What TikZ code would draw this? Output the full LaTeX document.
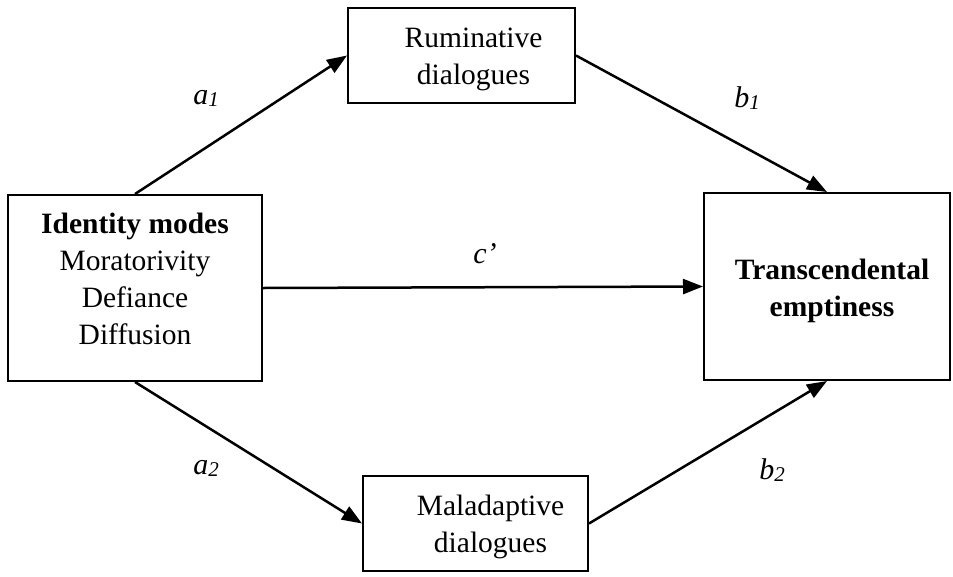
\documentclass[tikz,border=0pt]{standalone}
\usepackage{fontspec}
\setmainfont{Liberation Serif}
\usetikzlibrary{arrows.meta}
\tikzset{
    box/.style={draw,line width=2pt,inner sep=0pt},
    txt/.style={align=center,font=\fontsize{29.5}{37}\selectfont},
    path/.style={line width=2.5pt,-{Triangle[length=20pt,width=15pt]}},
    coef/.style={font=\fontsize{30}{36}\selectfont\itshape}
}
\newcommand{\sub}[1]{\raisebox{-2pt}{\fontsize{21}{21}\selectfont #1}}
\begin{document}
\begin{tikzpicture}[x=1pt,y=-1pt]
    \useasboundingbox (0,0) rectangle (953,576);

    \node[box,minimum width=254pt,minimum height=186pt,
        label={[txt,yshift=9.5pt]center:\textbf{Identity modes}\\Moratorivity\\Defiance\\Diffusion}]
        (idm) at (135,288) {};
    \node[box,minimum width=227pt,minimum height=95pt,
        label={[txt,xshift=12pt,yshift=-4pt]center:Ruminative\\dialogues}]
        (rum) at (461.5,55.5) {};
    \node[box,minimum width=225pt,minimum height=95pt,
        label={[txt,xshift=15pt,yshift=-3pt]center:Maladaptive\\dialogues}]
        (mal) at (475.5,523.5) {};
    \node[box,minimum width=246pt,minimum height=187pt,
        label={[txt,xshift=5pt,yshift=-4pt]center:\textbf{Transcendental}\\\textbf{emptiness}}]
        (emp) at (827,286.5) {};

    \draw[path] (idm.north) -- (rum.west);
    \draw[path] (rum.east) -- (emp.north);
    \draw[path] (idm.east) -- (emp.west);
    \draw[path] (idm.south) -- (mal.west);
    \draw[path] (mal.east) -- (emp.south);

    \node[coef] (a1) at (206,98) {a\sub{1}};
    \node[coef] (b1) at (747,98) {b\sub{1}};
    \node[coef] (c) at (485,254) {c’};
    \node[coef] (a2) at (206,468) {a\sub{2}};
    \node[coef] (b2) at (772,470) {b\sub{2}};
\end{tikzpicture}
\end{document}
